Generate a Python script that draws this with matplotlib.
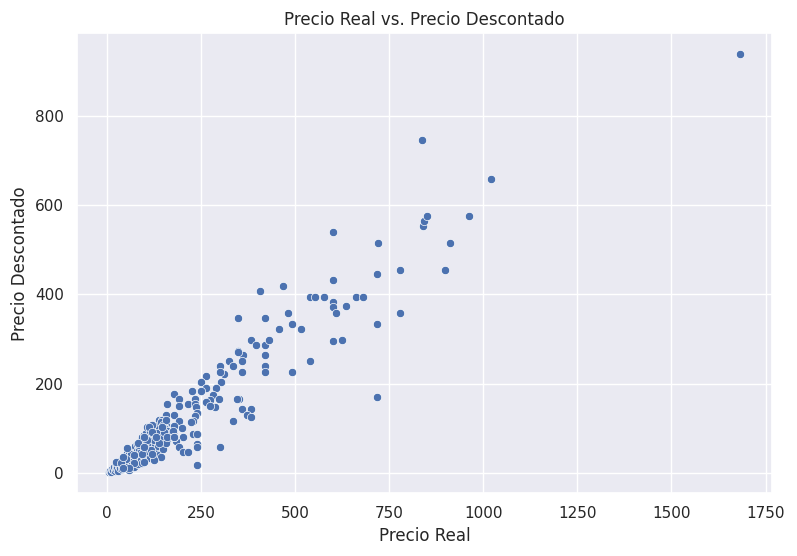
import matplotlib
matplotlib.use("Agg")
import matplotlib.pyplot as plt
import seaborn as sns

sns.set_theme(style="darkgrid")

# Upper / sparse points
sparse_real = [1683, 838, 1021, 840, 842, 850, 963, 600, 720, 912, 600, 719, 780, 899,
               407, 468, 539, 552, 576, 661, 682, 600, 600, 610, 635, 780, 719, 600,
               624, 719, 349, 420, 481, 492, 457, 516, 383, 397, 420, 431, 349, 362,
               420, 360, 420, 420, 360, 492, 539, 351, 360, 383, 373, 383]
sparse_desc = [937, 746, 659, 553, 565, 575, 575, 540, 514, 514, 432, 445, 454, 454,
               408, 419, 394, 394, 394, 395, 395, 383, 372, 359, 373, 359, 334, 295,
               299, 171, 347, 347, 358, 334, 323, 323, 298, 287, 287, 298, 274, 265,
               265, 252, 239, 227, 227, 227, 252, 167, 143, 143, 130, 125]

# Middle band
mid_real = [349, 325, 301, 336, 312, 301, 264, 251, 304, 291, 264, 251, 227, 180,
            283, 299, 275, 264, 288, 275, 235, 193, 216, 235, 238, 193, 161, 346,
            336, 180, 240, 235, 230, 224, 158, 139, 148, 158, 156, 193, 201, 180,
            139, 139, 180, 203, 177, 185, 230, 240, 158, 148, 240, 240, 301, 193,
            203, 216, 145, 240]
mid_desc = [272, 252, 239, 239, 221, 226, 217, 203, 203, 191, 191, 185, 185, 178,
            174, 167, 163, 160, 149, 151, 167, 167, 156, 156, 149, 151, 156, 167,
            118, 131, 134, 129, 118, 114, 131, 119, 120, 111, 102, 116, 102, 105,
            102, 91, 85, 82, 80, 73, 87, 87, 69, 69, 65, 58, 58, 58,
            47, 47, 36, 19]

# Dense cluster near the origin
blob_real = [5, 8, 10, 12, 15, 18, 20, 22, 25, 25, 28, 30, 30, 32, 35, 35, 38, 40, 40, 42,
             45, 45, 48, 50, 50, 50, 52, 55, 55, 58, 60, 60, 60, 62, 65, 65, 68, 70, 70, 70,
             72, 75, 75, 78, 80, 80, 80, 82, 85, 85, 88, 90, 90, 90, 92, 95, 95, 98, 100, 100,
             100, 102, 105, 105, 108, 110, 110, 112, 115, 115, 118, 120, 120, 122, 125, 125,
             128, 130, 130, 132, 135, 135, 138, 140, 140, 143, 145, 148, 150, 150, 152, 155,
             157, 160, 160, 165, 170, 175, 180, 24, 46, 86, 99, 117, 126, 134, 148, 143, 157,
             121, 112, 64, 51, 38, 73, 73, 60, 42, 95, 82, 139, 121, 152, 126, 108, 99, 55,
             42, 121, 99, 159, 179, 148, 130]
blob_desc = [2, 4, 6, 3, 10, 7, 14, 5, 18, 10, 12, 22, 6, 16, 28, 12, 20, 30, 9, 22,
             35, 15, 26, 40, 18, 30, 12, 45, 25, 35, 48, 20, 8, 30, 50, 38, 22, 55, 42, 30,
             15, 60, 45, 28, 65, 50, 36, 20, 70, 55, 40, 75, 60, 30, 48, 80, 22, 65, 85, 50,
             38, 72, 90, 58, 104, 80, 45, 62, 95, 35, 70, 100, 52, 82, 88, 30,
             65, 95, 75, 45, 105, 60, 85, 100, 40, 115, 72, 90, 108, 55, 80, 98,
             119, 75, 95, 85, 89, 95, 82, 26, 18, 63, 26, 52, 74, 89, 82, 37, 67,
             108, 104, 44, 33, 22, 41, 22, 11, 11, 44, 67, 67, 93, 93, 30, 74, 59, 56,
             37, 44, 82, 82, 82, 104, 82]

precio_real = sparse_real + mid_real + blob_real
precio_descontado = sparse_desc + mid_desc + blob_desc

fig = plt.figure(figsize=(7.97, 5.56), dpi=100)
ax = fig.add_axes([0.0966, 0.1128, 0.872, 0.8272])
sns.scatterplot(x=precio_real, y=precio_descontado, ax=ax)
ax.set_title("Precio Real vs. Precio Descontado")
ax.set_xlabel("Precio Real")
ax.set_ylabel("Precio Descontado")
fig.savefig("out.png", dpi=100)
